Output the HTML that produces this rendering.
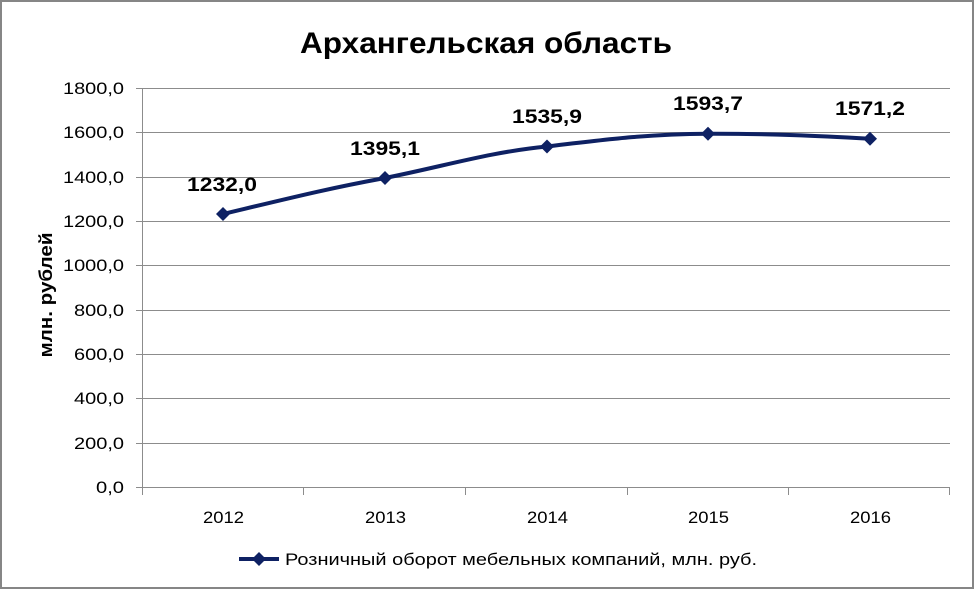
<!DOCTYPE html>
<html><head><meta charset="utf-8"><style>
body{margin:0;background:#fff}
svg{display:block}
text{font-family:"Liberation Sans","DejaVu Sans",sans-serif}
</style></head><body>
<svg width="975" height="590" viewBox="0 0 975 590">
<rect x="1" y="1" width="972" height="587" fill="#fff" stroke="#868686" stroke-width="2"/>
<text x="300" y="53" font-size="30" font-weight="bold" textLength="372" lengthAdjust="spacingAndGlyphs" fill="#000">Архангельская область</text>
<g stroke="#8c8c8c" stroke-width="1">
<line x1="142" y1="88.5" x2="950" y2="88.5"/>
<line x1="142" y1="132.5" x2="950" y2="132.5"/>
<line x1="142" y1="177.5" x2="950" y2="177.5"/>
<line x1="142" y1="221.5" x2="950" y2="221.5"/>
<line x1="142" y1="265.5" x2="950" y2="265.5"/>
<line x1="142" y1="310.5" x2="950" y2="310.5"/>
<line x1="142" y1="354.5" x2="950" y2="354.5"/>
<line x1="142" y1="398.5" x2="950" y2="398.5"/>
<line x1="142" y1="443.5" x2="950" y2="443.5"/>
<line x1="142" y1="487.5" x2="950" y2="487.5"/>
<line x1="142.5" y1="88" x2="142.5" y2="495"/>
<line x1="303.5" y1="487" x2="303.5" y2="495"/>
<line x1="465.5" y1="487" x2="465.5" y2="495"/>
<line x1="627.5" y1="487" x2="627.5" y2="495"/>
<line x1="788.5" y1="487" x2="788.5" y2="495"/>
<line x1="949.5" y1="487" x2="949.5" y2="495"/>
<line x1="136" y1="88.5" x2="142" y2="88.5"/><line x1="136" y1="132.5" x2="142" y2="132.5"/><line x1="136" y1="177.5" x2="142" y2="177.5"/><line x1="136" y1="221.5" x2="142" y2="221.5"/><line x1="136" y1="265.5" x2="142" y2="265.5"/><line x1="136" y1="310.5" x2="142" y2="310.5"/><line x1="136" y1="354.5" x2="142" y2="354.5"/><line x1="136" y1="398.5" x2="142" y2="398.5"/><line x1="136" y1="443.5" x2="142" y2="443.5"/><line x1="136" y1="487.5" x2="142" y2="487.5"/>
</g>
<g font-size="17" fill="#000">
<text x="63" y="94" textLength="61" lengthAdjust="spacingAndGlyphs">1800,0</text><text x="63" y="138" textLength="61" lengthAdjust="spacingAndGlyphs">1600,0</text><text x="63" y="183" textLength="61" lengthAdjust="spacingAndGlyphs">1400,0</text><text x="63" y="227" textLength="61" lengthAdjust="spacingAndGlyphs">1200,0</text><text x="63" y="271" textLength="61" lengthAdjust="spacingAndGlyphs">1000,0</text><text x="74" y="316" textLength="50" lengthAdjust="spacingAndGlyphs">800,0</text><text x="74" y="360" textLength="50" lengthAdjust="spacingAndGlyphs">600,0</text><text x="74" y="404" textLength="50" lengthAdjust="spacingAndGlyphs">400,0</text><text x="74" y="449" textLength="50" lengthAdjust="spacingAndGlyphs">200,0</text><text x="96" y="493" textLength="28" lengthAdjust="spacingAndGlyphs">0,0</text>
</g>
<g font-size="17" fill="#000">
<text x="203" y="523" textLength="41" lengthAdjust="spacingAndGlyphs">2012</text><text x="365" y="523" textLength="41" lengthAdjust="spacingAndGlyphs">2013</text><text x="527" y="523" textLength="41" lengthAdjust="spacingAndGlyphs">2014</text><text x="688" y="523" textLength="41" lengthAdjust="spacingAndGlyphs">2015</text><text x="850" y="523" textLength="41" lengthAdjust="spacingAndGlyphs">2016</text>
</g>
<text transform="translate(52,295) rotate(-90)" font-size="18" font-weight="bold" text-anchor="middle" textLength="125" lengthAdjust="spacingAndGlyphs">млн. рублей</text>
<path d="M223,214 C290,198 330,188 385,178 C445,166 490,152 547,146.5 C610,139 650,134 708,133.7 C770,133.5 820,136 870,138.7" fill="none" stroke="#0e2163" stroke-width="4"/>
<g fill="#0e2163">
<path d="M223,207l7,7l-7,7l-7,-7z"/><path d="M385,171l7,7l-7,7l-7,-7z"/><path d="M547,139.5l7,7l-7,7l-7,-7z"/><path d="M708,126.7l7,7l-7,7l-7,-7z"/><path d="M870,131.7l7,7l-7,7l-7,-7z"/>
</g>
<g font-size="19" font-weight="bold" fill="#000">
<text x="187" y="191" textLength="70" lengthAdjust="spacingAndGlyphs">1232,0</text><text x="350" y="155" textLength="70" lengthAdjust="spacingAndGlyphs">1395,1</text><text x="512" y="123" textLength="70" lengthAdjust="spacingAndGlyphs">1535,9</text><text x="673" y="110" textLength="70" lengthAdjust="spacingAndGlyphs">1593,7</text><text x="835" y="115" textLength="70" lengthAdjust="spacingAndGlyphs">1571,2</text>
</g>
<line x1="239" y1="559" x2="279" y2="559" stroke="#0e2163" stroke-width="4"/>
<path d="M259,552l7,7l-7,7l-7,-7z" fill="#0e2163"/>
<text x="285" y="565" font-size="17" fill="#000" textLength="472" lengthAdjust="spacingAndGlyphs">Розничный оборот мебельных компаний, млн. руб.</text>
</svg>
</body></html>
